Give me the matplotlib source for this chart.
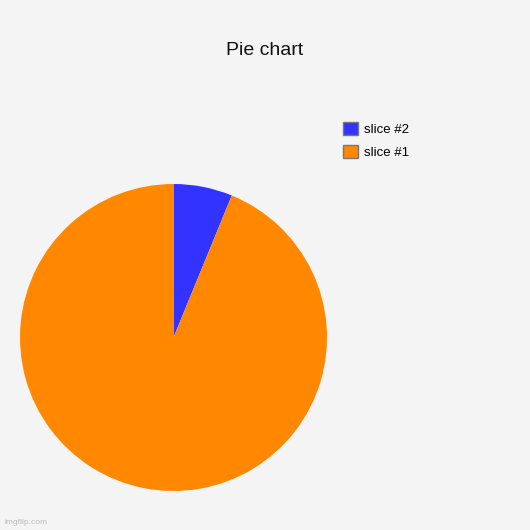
import matplotlib.pyplot as plt
from matplotlib.patches import Patch

# slice values (slice #2 is the small blue wedge)
labels = ['slice #2', 'slice #1']
values = [6.2, 93.8]
colors = ['#3333ff', '#ff8800']
title = 'Pie chart'

bg = '#f4f4f4'
fig = plt.figure(figsize=(5.3, 5.3), dpi=100, facecolor=bg)

# pie centre ~ (173, 337) px, radius ~153 px
cx, cy, r = 173.5 / 530, 1 - 337.5 / 530, 153.5 / 530
ax = fig.add_axes([cx - r, cy - r, 2 * r, 2 * r])
ax.set_facecolor(bg)
ax.pie(values, colors=colors, startangle=90, counterclock=False,
       radius=1, wedgeprops=dict(linewidth=0))
ax.set_xlim(-1, 1)
ax.set_ylim(-1, 1)
ax.set_aspect('equal')
ax.axis('off')

fig.text(0.5, 0.905, title, ha='center', va='center', fontsize=14,
         family='Liberation Sans', color='#111111')

handles = [Patch(facecolor=c, edgecolor='#777777', linewidth=1) for c in colors]
fig.legend(handles, labels, loc='upper left', bbox_to_anchor=(0.625, 0.792),
           frameon=False, handlelength=1.15, handleheight=1.15,
           handletextpad=0.45, labelspacing=0.7,
           prop={'family': 'Liberation Sans', 'size': 9.5})

fig.text(0.008, 0.008, 'imgflip.com', fontsize=6, color='#bbbbbb',
         family='Liberation Sans', ha='left', va='bottom')

fig.savefig('out.png', dpi=100, facecolor=bg)
